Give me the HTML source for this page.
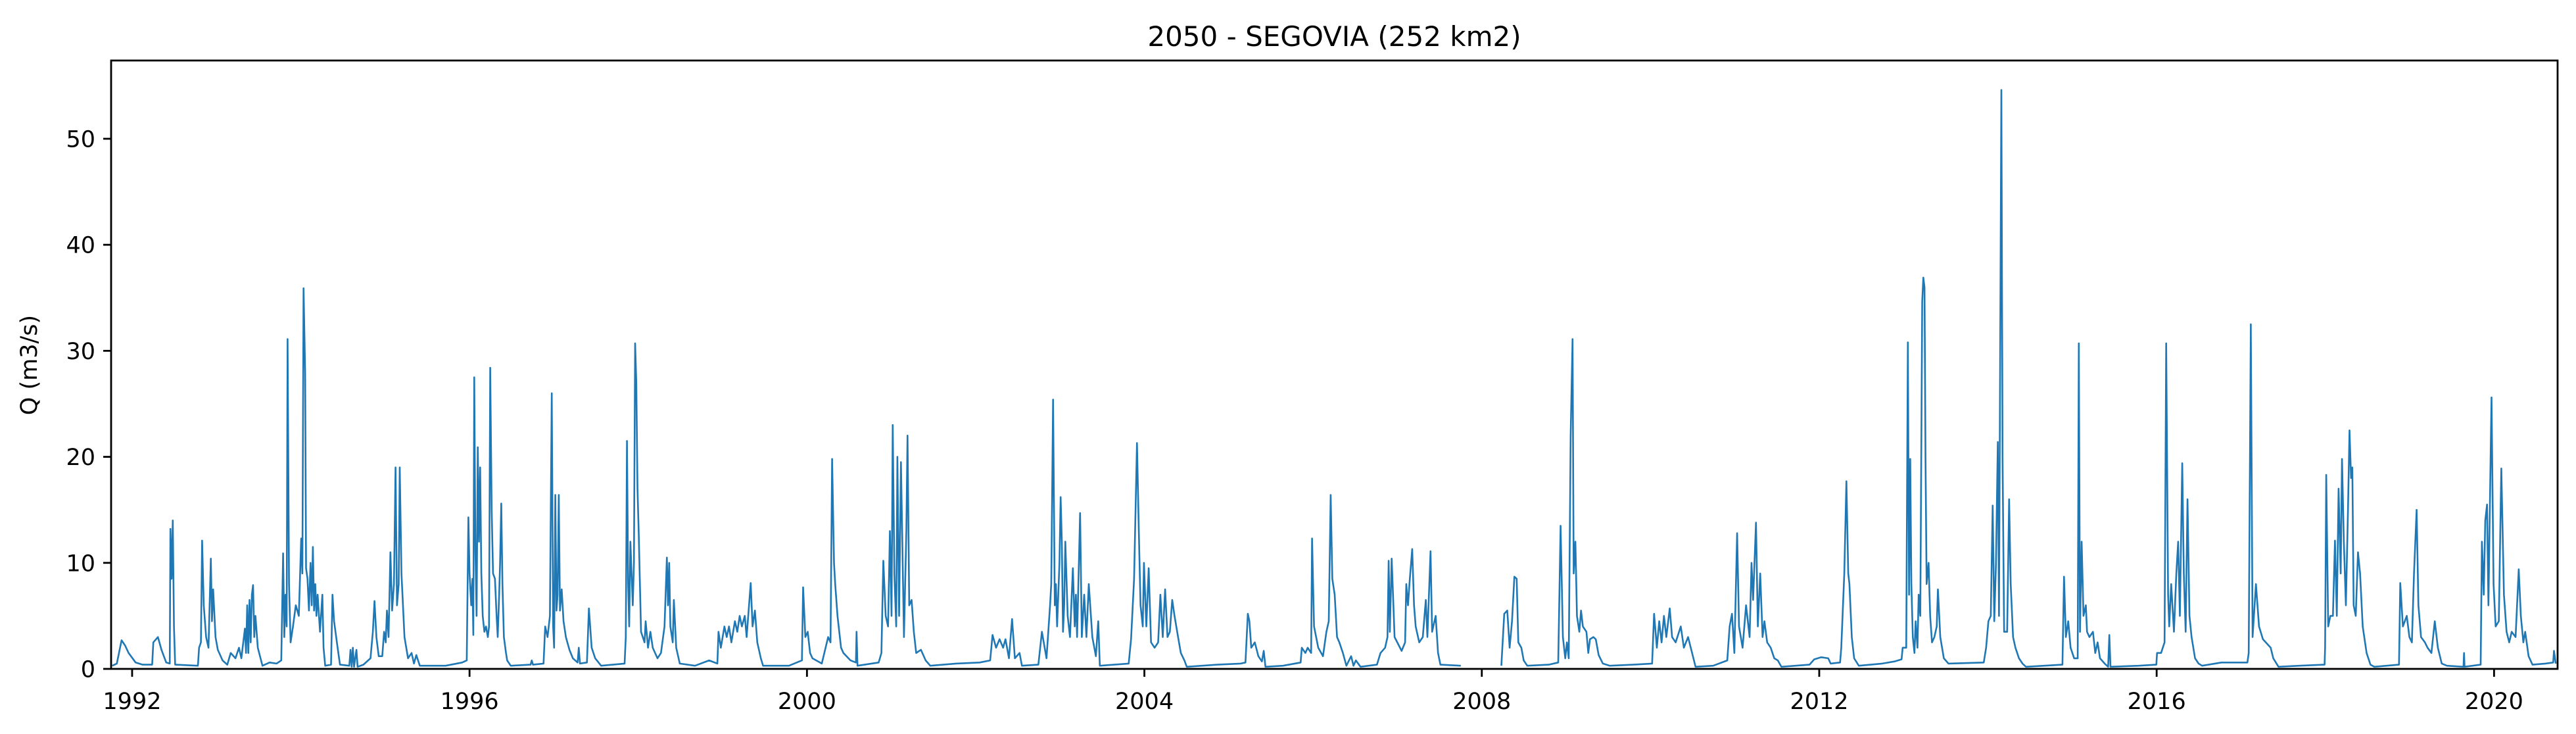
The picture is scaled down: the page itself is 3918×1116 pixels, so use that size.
<!DOCTYPE html>
<html><head><meta charset="utf-8">
<style>
html,body{margin:0;padding:0;background:#fff;}
svg{display:block;}
text{font-family:"DejaVu Sans","Liberation Sans",sans-serif;fill:#000;}
</style></head>
<body>
<svg id="chart" width="3918" height="1116" viewBox="0 0 3918 1116" xmlns="http://www.w3.org/2000/svg">
<rect x="0" y="0" width="3918" height="1116" fill="#fff"/>
<text x="2029.5" y="70" font-size="42" text-anchor="middle">2050 - SEGOVIA (252 km2)</text>
<text transform="translate(56,555) rotate(-90)" font-size="35" text-anchor="middle">Q (m3/s)</text>
<g id="plot"></g>
<g id="axes"></g>
</svg>
<script>
const xTickYears = [1992,1996,2000,2004,2008,2012,2016,2020];
const yTickValues = [0,10,20,30,40,50];
const dates = [
1991.764,1991.819,1991.875,1991.917,1991.958,1992.042,1992.125,1992.237,1992.251,1992.306,1992.348,1992.404,1992.446,1992.454,1992.468,1992.482,1992.496,1992.510,
1992.780,1992.794,1992.816,1992.830,1992.849,1992.877,1992.905,1992.933,1992.947,1992.961,1992.989,1993.016,1993.072,1993.128,1993.169,1993.225,1993.267,1993.295,
1993.337,1993.350,1993.364,1993.378,1993.392,1993.406,1993.420,1993.434,1993.448,1993.462,1993.490,1993.545,1993.629,1993.712,1993.768,1993.790,1993.804,1993.818,
1993.832,1993.843,1993.860,1993.879,1993.907,1993.940,1993.976,1994.004,1994.018,1994.032,1994.051,1994.062,1994.079,1994.096,1994.115,1994.129,1994.143,1994.157,
1994.171,1994.185,1994.199,1994.227,1994.255,1994.269,1994.289,1994.358,1994.375,1994.394,1994.436,1994.464,1994.575,1994.589,1994.603,1994.617,1994.631,1994.659,
1994.673,1994.742,1994.826,1994.854,1994.873,1994.896,1994.923,1994.965,1994.987,1995.007,1995.021,1995.040,1995.062,1995.082,1995.104,1995.123,1995.140,1995.160,
1995.173,1995.193,1995.229,1995.271,1995.313,1995.341,1995.369,1995.410,1995.717,1995.912,1995.967,
1995.986,1996.000,1996.020,1996.034,1996.045,1996.056,1996.070,1996.084,1996.098,1996.112,1996.126,1996.140,1996.156,1996.176,1996.195,1996.217,1996.231,1996.245,
1996.262,1996.279,1996.301,1996.321,1996.334,1996.351,1996.362,1996.376,1996.390,1996.407,1996.432,1996.446,1996.488,1996.724,1996.738,1996.752,1996.877,1996.897,
1996.925,1996.953,1996.975,1996.991,1997.003,1997.017,1997.031,1997.044,1997.058,1997.072,1997.092,1997.114,1997.142,1997.184,1997.225,1997.281,1997.295,1997.309,
1997.392,1997.415,1997.448,1997.490,1997.560,1997.838,1997.852,1997.866,1997.880,1997.893,1997.907,1997.935,1997.949,1997.963,1997.977,1997.991,1998.005,1998.033,
1998.074,1998.088,1998.116,1998.144,1998.172,1998.228,1998.269,1998.311,1998.339,1998.353,1998.367,1998.381,1998.409,1998.422,1998.450,1998.492,1998.673,1998.840,
1998.938,1998.951,1998.979,1999.021,1999.049,1999.076,1999.104,1999.146,1999.174,1999.202,1999.229,1999.263,1999.285,1999.333,1999.355,1999.383,1999.411,1999.453,
1999.480,1999.787,1999.940,1999.954,1999.981,2000.009,2000.037,2000.065,2000.176,
2000.251,2000.279,2000.298,2000.321,2000.335,2000.362,2000.404,2000.432,2000.516,2000.580,2000.588,2000.599,2000.850,2000.883,2000.905,2000.933,2000.961,2000.983,
2001.003,2001.017,2001.036,2001.058,2001.072,2001.092,2001.114,2001.150,2001.178,2001.192,2001.212,2001.240,2001.267,2001.295,2001.351,2001.407,2001.462,2001.768,
2002.047,2002.172,2002.200,2002.242,2002.283,2002.325,2002.353,2002.395,2002.431,2002.465,2002.520,2002.548,2002.743,2002.785,2002.840,2002.882,2002.896,2002.918,
2002.938,2002.951,2002.965,2002.993,2003.007,2003.021,2003.035,2003.049,2003.063,2003.091,2003.118,2003.152,2003.174,2003.188,2003.202,2003.238,2003.258,2003.286,
2003.313,2003.341,2003.383,2003.425,2003.453,2003.472,2003.814,2003.842,2003.878,2003.912,2003.934,2003.954,2003.981,2003.995,2004.023,2004.051,2004.079,2004.121,
2004.163,2004.190,2004.218,2004.246,2004.274,2004.302,2004.330,2004.357,2004.399,2004.432,2004.474,2004.502,2004.864,2005.142,2005.198,2005.226,2005.245,2005.267,
2005.309,2005.351,2005.393,2005.415,2005.435,2005.643,2005.852,2005.866,2005.908,2005.936,2005.977,2005.988,2006.011,2006.061,2006.117,2006.158,2006.186,2006.208,
2006.228,2006.256,2006.284,2006.311,2006.353,2006.395,2006.451,2006.479,2006.507,2006.562,2006.757,2006.799,2006.854,2006.882,2006.896,2006.910,2006.932,2006.966,
2007.049,2007.091,2007.105,2007.125,2007.147,2007.175,2007.197,2007.216,2007.258,2007.300,2007.336,2007.355,2007.392,2007.411,2007.453,2007.481,2007.509,2007.751,
2007.990,
2008.232,2008.266,2008.302,2008.330,2008.358,2008.386,2008.413,2008.433,2008.469,2008.497,2008.539,
2008.794,2008.906,2008.934,2008.961,2008.989,2009.009,2009.031,2009.053,2009.076,2009.089,2009.109,2009.128,2009.156,2009.176,2009.198,2009.240,2009.262,2009.282,
2009.323,2009.351,2009.385,2009.435,2009.518,2009.797,2010.019,2010.042,2010.075,2010.103,2010.131,2010.159,2010.187,2010.228,2010.256,2010.298,2010.359,2010.395,
2010.445,2010.493,2010.534,2010.743,2010.910,2010.938,2010.966,2010.994,2011.027,2011.049,2011.091,2011.133,2011.175,2011.197,2011.216,2011.250,2011.272,2011.300,
2011.328,2011.350,2011.383,2011.425,2011.467,2011.509,2011.551,2011.885,2011.940,2012.024,2012.107,2012.135,2012.247,2012.261,2012.297,2012.322,2012.344,2012.358,
2012.386,2012.414,2012.469,2012.748,
2012.892,2012.976,2012.989,2013.031,2013.051,2013.065,2013.079,2013.092,2013.109,2013.129,2013.143,2013.165,2013.179,2013.198,2013.221,2013.234,2013.248,2013.260,
2013.273,2013.296,2013.315,2013.337,2013.365,2013.393,2013.407,2013.435,2013.477,2013.532,2013.950,2013.978,2014.006,2014.034,2014.056,2014.075,2014.095,2014.117,
2014.131,2014.159,2014.173,2014.192,2014.228,2014.251,2014.270,2014.298,2014.326,2014.368,2014.409,2014.451,2014.883,2014.902,2014.924,2014.952,2014.980,2015.022,
2015.064,2015.077,2015.091,2015.111,2015.133,2015.161,2015.175,2015.203,2015.245,2015.272,2015.300,2015.328,2015.384,2015.425,2015.439,2015.453,2015.787,2015.996,
2016.005,2016.052,2016.094,2016.113,2016.136,2016.149,2016.172,2016.205,2016.233,2016.255,2016.275,2016.303,2016.322,2016.344,2016.366,2016.389,2016.414,2016.455,
2016.497,2016.539,
2016.768,2017.076,2017.091,2017.116,2017.137,2017.177,2017.214,2017.260,2017.352,2017.383,2017.444,2017.690,2017.991,2017.997,2018.010,2018.034,2018.059,2018.090,
2018.114,2018.136,2018.157,2018.182,2018.197,2018.219,2018.243,2018.268,2018.286,2018.305,2018.320,2018.335,2018.360,2018.387,2018.412,2018.443,2018.489,2018.535,
2018.581,2018.873,2018.888,2018.919,2018.965,2018.996,2019.026,2019.051,2019.082,2019.103,2019.134,2019.180,2019.211,2019.257,2019.297,2019.334,2019.380,2019.441,
2019.638,2019.644,2019.650,2019.841,2019.856,2019.878,2019.896,2019.917,2019.933,2019.948,2019.970,2019.994,2020.019,2020.056,2020.086,2020.117,2020.148,2020.179,
2020.209,2020.255,2020.292,2020.317,2020.347,2020.369,2020.409,2020.455,2020.609,2020.701,2020.710,2020.731
];
const flows = [
0.3,0.5,2.7,2.2,1.5,0.6,0.4,0.4,2.5,3.0,1.8,0.6,0.5,13.2,8.5,14.0,4,0.4,
0.3,2,2.5,12.1,6,3,2,10.4,4.5,7.5,3,1.8,0.8,0.4,1.5,1.0,2.0,1.0,
3.8,1.5,6.0,1.5,6.5,2.5,7,7.9,3,5,2,0.3,0.6,0.5,0.8,10.9,3,7,
4,31.1,8,2.5,4,6,5,12.3,9,35.9,28,9.5,8.5,5.5,10,6,11.5,5.5,
8,5,7,3.5,7,2,0.3,0.4,7,4.5,2,0.4,0.3,1.8,0.2,2,0.2,1.8,
0.2,0.4,1.0,3.5,6.4,3,1.2,1.2,3.5,2.5,5.5,3,11,5.5,8,19,6,8,
19,9,3,1.0,1.5,0.5,1.3,0.3,0.3,0.6,0.8,
14.3,9,6,8.5,3.2,27.5,11,5,20.9,12,19,9,5,3.5,4,3,4,28.4,
15,9,8.5,5,3,7,10,15.6,8,3,1.5,0.8,0.3,0.4,0.8,0.4,0.5,4,
3,5,26,4,2,16.4,5.5,7,16.4,5.5,7.5,4.5,3,1.8,1,0.6,2,0.5,
0.6,5.7,2,1,0.3,0.5,3,21.5,8,4,12,6,10,30.7,27,17,13,3.5,
2.5,4.5,2,3.5,2,1,1.5,4,10.5,6,10,4,2.5,6.5,2,0.5,0.3,0.8,
0.5,3.5,2,4,3,4,2.5,4.5,3.5,5,4,5,3,8.1,4,5.5,2.5,1,
0.3,0.3,0.8,7.7,3,3.5,1.5,1,0.5,
3,2.5,19.8,10,8,5,2,1.5,0.8,0.6,3.5,0.3,0.6,1.5,10.2,5,4,13,
5,23,9,4,20,5,19.5,3,13,22,6,6.5,3.5,1.5,1.8,0.8,0.3,0.5,
0.6,0.8,3.2,2,2.8,2,2.8,1,4.7,1,1.5,0.3,0.4,3.5,1,6,8,25.4,
6,8,4,10,16.2,12,3.5,6,12,5,3,9.5,4,7,3,14.7,3,7,
3,8,3,1.2,4.5,0.3,0.5,2.8,8.5,21.3,13,6,4,10,4,9.5,2.5,2,
2.5,7,3,7.5,3,3.5,6.5,5,3,1.5,0.8,0.2,0.4,0.5,0.6,5.2,4.5,2,
2.5,1.2,0.7,1.7,0.2,0.3,0.6,2,1.5,2,1.5,12.3,4,2,1.2,3.5,4.5,16.4,
8.5,7,3,2.5,1.5,0.3,1.2,0.3,0.8,0.2,0.4,1.5,2,3,10.2,3.5,10.4,3,
1.7,2.5,8,6,8.5,11.3,6,4,2.5,3,6.5,3,11.1,3.5,5,1.5,0.4,0.3,
null,
0.3,5.2,5.5,2,4.5,8.7,8.5,2.5,2,0.8,0.3,
0.4,0.6,13.5,3,1,2.5,1,22,31.1,9,12,5,3.5,5.5,4,3.5,1.5,2.8,
3,2.8,1.3,0.5,0.3,0.4,0.5,5.2,2,4.5,2.5,5,3,5.7,3,2.5,4,2,
3,1.5,0.2,0.3,0.8,4,5.2,1.5,12.8,4,2,6,3,10,6.5,13.8,4,9,
3,4.5,2.5,2,1,0.8,0.2,0.4,0.9,1.1,1.0,0.5,0.6,2,9,17.7,9,8,
3,1,0.3,0.5,
0.7,0.9,2,2,30.8,7,19.8,8,3,1.5,4.5,2,7,5,34.6,36.9,36,20,
8,10,5,2.5,3,4,7.5,3,1,0.5,0.6,2,4.5,5,15.4,4.5,10,21.4,
5,54.6,20,3.5,3.5,16,8,3,2,1,0.5,0.2,0.4,8.7,3,4.5,2,1,
1,30.7,3.5,12,5,6,3.5,3,3.5,1.5,2.5,1,0.5,0.2,3.2,0.2,0.3,0.4,
1.5,1.5,2.5,30.7,7,4,8,3.5,9,12,5,19.4,9,3.5,16,5,3,1,
0.5,0.3,
0.6,0.6,1.5,32.5,3,8,4,2.8,2,1,0.2,0.3,0.4,2,18.3,4,5,5,
12.1,5,17,9,19.8,12,6,15,22.5,18,19,6,5,11,9,4,1.5,0.4,
0.2,0.4,8.1,4,5,3,2.5,9,15,6,3,2.5,2,1.5,4.5,2,0.5,0.3,
0.2,1.5,0.2,0.4,12,7,14,15.5,6,14,25.6,8,4,4.5,18.9,7,3.5,2.5,
3.5,3,9.4,5,2.5,3.5,1.2,0.4,0.5,0.6,1.7,0.5
];

const NS = 'http://www.w3.org/2000/svg';
const L = 169, R = 3890, T = 92, B = 1017;
const xMin = 1991.751, xMax = 2020.753, yMin = 0, yMax = 57.38;
function xScale(v){ return L + (v - xMin) / (xMax - xMin) * (R - L); }
function yScale(v){ return B - (v - yMin) / (yMax - yMin) * (B - T); }

const plot = document.getElementById('plot');
const axes = document.getElementById('axes');

// series path, breaking at nulls
let d = '';
let pen = false;
const n = Math.min(dates.length, flows.length);
for (let i = 0; i < n; i++) {
  const v = flows[i];
  if (v === null || v === undefined) { pen = false; continue; }
  const px = xScale(dates[i]).toFixed(1);
  const py = yScale(v).toFixed(1);
  d += (pen ? 'L' : 'M') + px + ',' + py;
  pen = true;
}
const line = document.createElementNS(NS, 'path');
line.setAttribute('d', d);
line.setAttribute('fill', 'none');
line.setAttribute('stroke', '#1f77b4');
line.setAttribute('stroke-width', '2.6');
line.setAttribute('stroke-linejoin', 'round');


plot.appendChild(line);

// frame
const frame = document.createElementNS(NS, 'rect');
frame.setAttribute('x', L);
frame.setAttribute('y', T);
frame.setAttribute('width', R - L);
frame.setAttribute('height', B - T);
frame.setAttribute('fill', 'none');
frame.setAttribute('stroke', '#000');
frame.setAttribute('stroke-width', '2.8');


axes.appendChild(frame);

// y ticks
yTickValues.forEach(function(v){
  const y = yScale(v);
  const t = document.createElementNS(NS, 'line');
  t.setAttribute('x1', L - 12); t.setAttribute('x2', L);
  t.setAttribute('y1', y); t.setAttribute('y2', y);
  t.setAttribute('stroke', '#000'); t.setAttribute('stroke-width', '2.8');
  
  
  axes.appendChild(t);
  const lab = document.createElementNS(NS, 'text');
  lab.setAttribute('x', L - 24);
  lab.setAttribute('y', y + 12.5);
  lab.setAttribute('font-size', '35');
  lab.setAttribute('text-anchor', 'end');
  lab.textContent = String(v);
  
  
  axes.appendChild(lab);
});

// x ticks
xTickYears.forEach(function(v){
  const x = xScale(v);
  const t = document.createElementNS(NS, 'line');
  t.setAttribute('x1', x); t.setAttribute('x2', x);
  t.setAttribute('y1', B); t.setAttribute('y2', B + 12);
  t.setAttribute('stroke', '#000'); t.setAttribute('stroke-width', '2.8');
  
  
  axes.appendChild(t);
  const lab = document.createElementNS(NS, 'text');
  lab.setAttribute('x', x);
  lab.setAttribute('y', B + 61);
  lab.setAttribute('font-size', '35');
  lab.setAttribute('text-anchor', 'middle');
  lab.textContent = String(v);
  
  
  axes.appendChild(lab);
});
</script>
</body></html>
